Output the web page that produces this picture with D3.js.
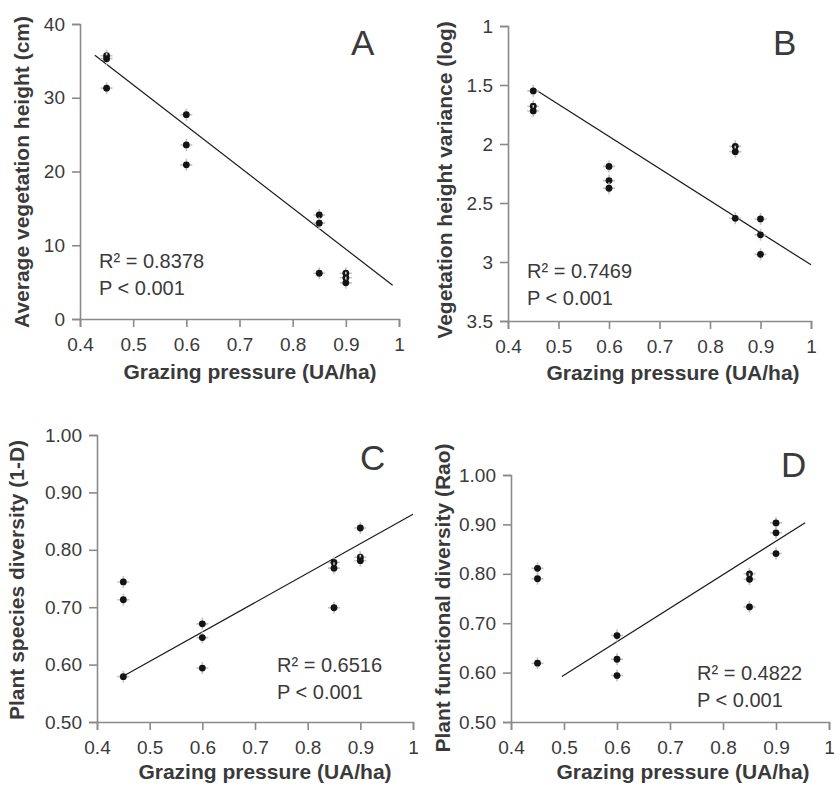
<!DOCTYPE html>
<html>
<head>
<meta charset="utf-8">
<script src="https://cdn.jsdelivr.net/npm/d3@7"></script>
<style>
  body { margin: 0; background: #fff; }
  svg { display: block; font-family: 'Liberation Sans', Arial, sans-serif; }
</style>
</head>
<body>
<svg id="chart" width="836" height="790"></svg>
<script>
// Grazing pressure levels (UA/ha), three plots per level
var grazing = [0.45, 0.6, 0.85, 0.9];
var xTicks = [0.4, 0.5, 0.6, 0.7, 0.8, 0.9, 1];

// A: average vegetation height (cm)
var heightA = [[35.7, 35.3, 31.3], [27.7, 23.6, 20.9], [14.1, 13.0, 6.2], [6.2, 5.6, 4.9]];
var ticksA = [0, 10, 20, 30, 40];
var trendA = [0.428, 0.988, -55.7, 59.6]; // from, to, slope, intercept

// B: vegetation height variance (log), reversed axis
var varianceB = [[1.55, 1.68, 1.72], [2.19, 2.31, 2.375], [2.02, 2.065, 2.63], [2.635, 2.77, 2.935]];
var ticksB = [1, 1.5, 2, 2.5, 3, 3.5];
var trendB = [0.453, 1.0, 2.72, 0.304];

// C: plant species diversity (1-D)
var diversityC = [[0.744, 0.713, 0.579], [0.671, 0.647, 0.594], [0.778, 0.768, 0.699], [0.838, 0.787, 0.781]];
var ticksC = [0.5, 0.6, 0.7, 0.8, 0.9, 1.0];
var trendC = [0.447, 1.0, 0.513, 0.349];

// D: plant functional diversity (Rao)
var raoD = [[0.811, 0.790, 0.619], [0.675, 0.627, 0.594], [0.800, 0.789, 0.733], [0.903, 0.883, 0.841]];
var ticksD = [0.5, 0.6, 0.7, 0.8, 0.9, 1.0];
var trendD = [0.496, 0.955, 0.678, 0.256];

var svg = d3.select('#chart');
var axisColor = '#8a8a8a';
var textColor = '#3a3a3a';

var panels = [
  {
    letter: 'A', values: heightA, ticks: ticksA, trend: trendA, fmt: d3.format('d'),
    yLabel: 'Average vegetation height (cm)', r2: 'R² = 0.8378',
    left: 80, right: 399, top: 24, bottom: 319, domain: [0, 40],
    letterPos: [351, 55], statPos: [99, 268], yLabelPos: [29, 172], xLabelPos: [250, 379]
  },
  {
    letter: 'B', values: varianceB, ticks: ticksB, trend: trendB, fmt: function(d) { return String(d); },
    yLabel: 'Vegetation height variance (log)', r2: 'R² = 0.7469',
    left: 508, right: 811, top: 26, bottom: 321, domain: [3.5, 1],
    letterPos: [773, 55], statPos: [527, 278], yLabelPos: [452, 180], xLabelPos: [673, 380]
  },
  {
    letter: 'C', values: diversityC, ticks: ticksC, trend: trendC, fmt: d3.format('.2f'),
    yLabel: 'Plant species diversity (1-D)', r2: 'R² = 0.6516',
    left: 97, right: 413, top: 435, bottom: 722, domain: [0.5, 1],
    letterPos: [360, 470], statPos: [277, 672], yLabelPos: [24, 580], xLabelPos: [265, 779]
  },
  {
    letter: 'D', values: raoD, ticks: ticksD, trend: trendD, fmt: d3.format('.2f'),
    yLabel: 'Plant functional diversity (Rao)', r2: 'R² = 0.4822',
    left: 511, right: 829, top: 475, bottom: 722, domain: [0.5, 1],
    letterPos: [781, 477], statPos: [697, 680], yLabelPos: [450, 598], xLabelPos: [683, 779]
  }
];

panels.forEach(drawPanel);

function drawPanel(p) {
  var x = d3.scaleLinear().domain([0.4, 1]).range([p.left, p.right]);
  var y = d3.scaleLinear().domain(p.domain).range([p.bottom, p.top]);
  var g = svg.append('g').attr('class', 'panel panel-' + p.letter);

  // Axes
  var xAxis = g.append('g')
    .attr('transform', 'translate(0,' + p.bottom + ')')
    .call(d3.axisBottom(x).tickValues(xTicks).tickSize(8).tickPadding(11)
      .tickFormat(function(d) { return String(d); }));

  var yAxis = g.append('g')
    .attr('transform', 'translate(' + p.left + ',0)')
    .call(d3.axisLeft(y).tickValues(p.ticks).tickSize(8).tickPadding(7)
      .tickFormat(p.fmt));

  [xAxis, yAxis].forEach(function(ax) {
    ax.select('.domain').attr('stroke', axisColor).attr('stroke-width', 1.6);
    ax.selectAll('.tick line').attr('stroke', axisColor).attr('stroke-width', 1.6);
    ax.selectAll('.tick text')
      .attr('fill', textColor)
      .attr('font-size', 19)
      .attr('font-family', "'Liberation Sans', Arial, sans-serif");
  });

  // Axis titles
  g.append('text')
    .attr('x', p.xLabelPos[0])
    .attr('y', p.xLabelPos[1])
    .attr('text-anchor', 'middle')
    .attr('font-size', 21)
    .attr('font-weight', 'bold')
    .attr('fill', textColor)
    .text('Grazing pressure (UA/ha)');

  g.append('text')
    .attr('transform', 'translate(' + p.yLabelPos[0] + ',' + p.yLabelPos[1] + ') rotate(-90)')
    .attr('text-anchor', 'middle')
    .attr('font-size', 21)
    .attr('font-weight', 'bold')
    .attr('fill', textColor)
    .text(p.yLabel);

  // Trend line
  var t = p.trend;
  g.append('line')
    .attr('x1', x(t[0]))
    .attr('y1', y(t[3] + t[2] * t[0]))
    .attr('x2', x(t[1]))
    .attr('y2', y(t[3] + t[2] * t[1]))
    .attr('stroke', '#1a1a1a')
    .attr('stroke-width', 1.2);

  // Points
  var points = [];
  p.values.forEach(function(group, i) {
    group.forEach(function(v) {
      points.push({ x: grazing[i], y: v });
    });
  });

  var pt = g.selectAll('.pt')
    .data(points)
    .enter().append('g')
    .attr('class', 'pt')
    .attr('transform', function(d) { return 'translate(' + x(d.x) + ',' + y(d.y) + ')'; });

  pt.append('path')
    .attr('d', 'M-6,0H6M0,-6V6')
    .attr('stroke', '#c4c4c4')
    .attr('stroke-width', 1.6);

  pt.append('circle')
    .attr('r', 3.4)
    .attr('fill', '#141414');

  // Panel letter and statistics
  g.append('text')
    .attr('x', p.letterPos[0])
    .attr('y', p.letterPos[1])
    .attr('font-size', 35)
    .attr('fill', textColor)
    .text(p.letter);

  g.append('text')
    .attr('x', p.statPos[0])
    .attr('y', p.statPos[1])
    .attr('font-size', 20)
    .attr('fill', textColor)
    .text(p.r2);

  g.append('text')
    .attr('x', p.statPos[0])
    .attr('y', p.statPos[1] + 27)
    .attr('font-size', 20)
    .attr('fill', textColor)
    .text('P < 0.001');
}
</script>
</body>
</html>
